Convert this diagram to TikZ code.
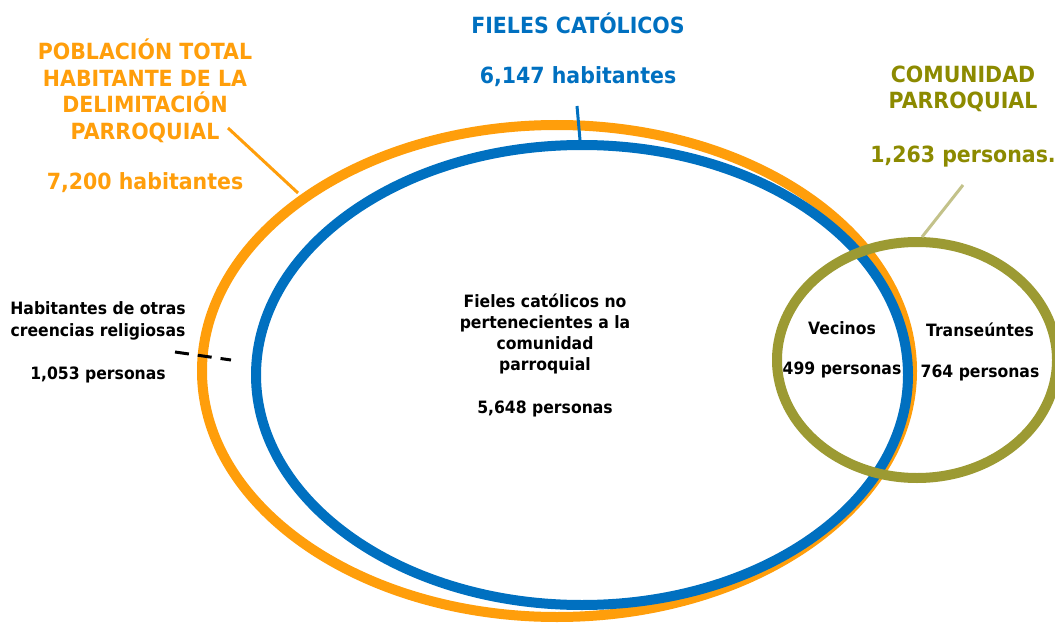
\documentclass[tikz,border=0pt]{standalone}
\usepackage{fontspec}
\setmainfont[FakeStretch=0.92]{DejaVu Sans}
\definecolor{naranja}{HTML}{FF9E0B}
\definecolor{azul}{HTML}{0070C0}
\definecolor{oliva}{HTML}{9C9A33}
\definecolor{olivatexto}{HTML}{8C8A00}
\definecolor{olivaclaro}{HTML}{C3C28A}
\begin{document}
\begin{tikzpicture}[x=1pt,y=-1pt,
  titulo/.style={align=center,font=\bfseries\fontsize{22.3}{26.5}\selectfont},
  dato/.style={align=center,font=\bfseries\fontsize{17}{21.3}\selectfont,text=black}]
\useasboundingbox (0,0) rectangle (1055,623);

% conjuntos
\draw[naranja, line width=10] (557,371) ellipse [x radius=355, y radius=246];
\draw[azul, line width=10] (582,375) ellipse [x radius=326, y radius=230];
\draw[oliva, line width=10] (917,360) ellipse [x radius=140, y radius=118];

% titulos
\node[titulo, text=naranja] (poblacion) at (145,91) {POBLACIÓN TOTAL\\HABITANTE DE LA\\DELIMITACIÓN\\PARROQUIAL};
\node[titulo, text=naranja] (total) at (145,183) {7,200 habitantes};
\node[titulo, text=azul] (fieles) at (578,23) {FIELES CATÓLICOS};
\node[titulo, text=azul] (totalfieles) at (578,77) {6,147 habitantes};
\node[titulo, text=olivatexto] (comunidad) at (963,89) {COMUNIDAD\\PARROQUIAL};
\node[titulo, text=olivatexto] (totalcomunidad) at (963,157) {1,263 personas.};

% datos
\node[dato] (otras) at (98,321) {Habitantes de otras\\creencias religiosas};
\node[dato] (otrasnum) at (98,375) {1,053 personas};
\node[dato] (nopert) at (545,334) {Fieles católicos no\\pertenecientes a la\\comunidad\\parroquial};
\node[dato] (nopertnum) at (545,409) {5,648 personas};
\node[dato] (vecinos) at (842,328) {Vecinos};
\node[dato] (vecinosnum) at (842,370) {499 personas};
\node[dato] (transeuntes) at (980,330) {Transeúntes};
\node[dato] (transeuntesnum) at (980,373) {764 personas};

% lineas guia
\coordinate (guia naranja) at (228,128);
\coordinate (borde naranja) at (298,193);
\coordinate (guia azul) at (577,106);
\coordinate (borde azul) at (580,140);
\coordinate (guia oliva) at (963,185);
\coordinate (borde oliva) at (922,237);
\coordinate (guia otras) at (175,352);
\coordinate (hueco) at (231,360);
\draw[naranja, line width=3] (guia naranja) -- (borde naranja);
\draw[azul, line width=3] (guia azul) -- (borde azul);
\draw[olivaclaro, line width=3] (guia oliva) -- (borde oliva);
\draw[black, line width=3, dash pattern=on 14 off 9] (guia otras) -- (hueco);
\end{tikzpicture}
\end{document}
